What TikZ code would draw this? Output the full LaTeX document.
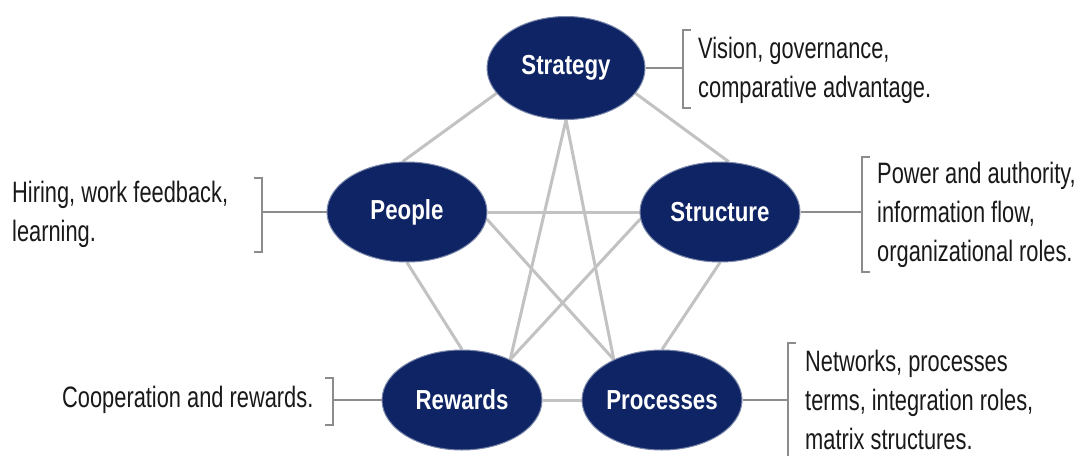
\documentclass[tikz,border=0pt]{standalone}
\usepackage{fontspec}
\setmainfont{Liberation Sans}
\newfontfamily\labfont[FakeStretch=0.74]{Liberation Sans}
\newfontfamily\elfont[FakeStretch=0.81]{Liberation Sans}
\usetikzlibrary{shapes.geometric,backgrounds}
\definecolor{navy}{RGB}{14,36,100}
\definecolor{edgegray}{RGB}{194,194,194}
\definecolor{brgray}{RGB}{140,140,140}
\definecolor{labtext}{RGB}{25,25,25}
\begin{document}
\begin{tikzpicture}[x=1pt,y=-1pt,
  ell/.style={ellipse, fill=navy, draw=navy!55!white, line width=1pt,
    minimum width=160pt, minimum height=100pt, inner sep=0pt, text=white,
    font=\elfont\bfseries\fontsize{27.5}{31}\selectfont},
  lab/.style={anchor=west, align=left, inner sep=0pt, text=labtext,
    font=\labfont\fontsize{29.5}{39}\selectfont},
  link/.style={draw=edgegray, line width=3pt},
  tie/.style={draw=brgray, line width=2pt},
  brk/.style={draw=brgray, line width=1.5pt}]
\useasboundingbox (0,0) rectangle (1081,455);

% ellipses
\node[ell, minimum width=158pt, minimum height=103pt] (strat) at (566,68) {Strategy};
\node[ell] (peop) at (407,212) {People};
\node[ell] (struc) at (720,212) {Structure};
\node[ell] (rew) at (462,400) {Rewards};
\node[ell] (proc) at (662,400) {Processes};

% white page and connections among the five elements
\begin{scope}[on background layer]
\fill[white] (0,0) rectangle (1081,455);
\draw[link] (strat.200) -- (peop.95);
\draw[link] (strat.-20) -- (struc.80);
\draw[link] (strat.south) -- (rew.40);
\draw[link] (strat.south) -- (proc.140);
\draw[link] (peop.east) -- (struc.west);
\draw[link] (peop.-5) -- (proc.140);
\draw[link] (struc.185) -- (rew.40);
\draw[link] (peop.south) -- (rew.north);
\draw[link] (struc.south) -- (proc.north);
\draw[link] (rew.east) -- (proc.west);
\end{scope}

% labels
\node[lab] (lstrat) at (698,70) {Vision, governance,\\comparative advantage.};
\node[lab] (lpeop) at (12,214) {Hiring, work feedback,\\learning.};
\node[lab] (lstruc) at (877,215) {Power and authority,\\information flow,\\organizational roles.};
\node[lab] (lrew) at (62,400) {Cooperation and rewards.};
\node[lab] (lproc) at (805,400) {Networks, processes\\terms, integration roles,\\matrix structures.};

% brackets and ties
\coordinate (bs) at (683,68);
\draw[brk] (691,30) -- (683,30) -- (683,108) -- (691,108);
\draw[tie] (strat.east) -- (bs);

\coordinate (bp) at (262,212);
\draw[brk] (254,178) -- (262,178) -- (262,252) -- (254,252);
\draw[tie] (bp) -- (peop.west);

\coordinate (bst) at (862,212);
\draw[brk] (870,157) -- (862,157) -- (862,272) -- (870,272);
\draw[tie] (struc.east) -- (bst);

\coordinate (br) at (333,400);
\draw[brk] (325,378) -- (333,378) -- (333,425) -- (325,425);
\draw[tie] (br) -- (rew.west);

\coordinate (bpr) at (788,400);
\draw[brk] (796,343) -- (788,343) -- (788,465);
\draw[tie] (proc.east) -- (bpr);
\end{tikzpicture}
\end{document}
